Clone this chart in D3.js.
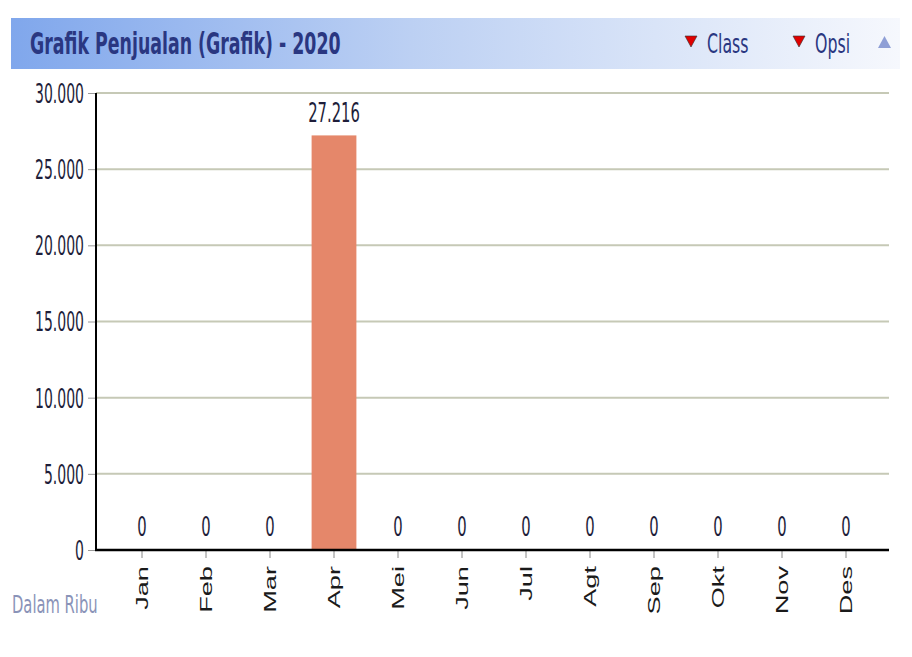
<!DOCTYPE html>
<html>
<head>
<meta charset="utf-8">
<script src="https://cdn.jsdelivr.net/npm/d3@7"></script>
<style>
  body { margin: 0; background: #fff; }
  text { font-family: "DejaVu Sans", sans-serif; }
</style>
</head>
<body>
<div id="chart"></div>
<script>
var width = 912,
    height = 657;

var title = "Grafik Penjualan (Grafik) - 2020";
var months = ["Jan", "Feb", "Mar", "Apr", "Mei", "Jun", "Jul", "Agt", "Sep", "Okt", "Nov", "Des"];
var sales = [0, 0, 0, 27216, 0, 0, 0, 0, 0, 0, 0, 0];
var yTicks = [0, 5000, 10000, 15000, 20000, 25000, 30000];
var menuItems = ["Class", "Opsi"];

var margin = { left: 96, right: 889, top: 93, bottom: 550 };
var textColor = "#1e1e3a";

var fmt = function(v) {
  return d3.format(",")(v).replace(/,/g, ".");
};

// the original text is narrow and tall, so squeeze it
var addText = function(parent, x, y, str, sx, sy) {
  return parent.append("text")
      .attr("transform", "translate(" + x + "," + y + ") scale(" + sx + "," + sy + ")")
      .text(str);
};

var svg = d3.select("#chart").append("svg")
    .attr("width", width)
    .attr("height", height);

// header band
var grad = svg.append("defs").append("linearGradient")
    .attr("id", "hdr").attr("x1", "0").attr("x2", "1");
grad.append("stop").attr("offset", "0").attr("stop-color", "#80a7ec");
grad.append("stop").attr("offset", "0.45").attr("stop-color", "#bcd0f3");
grad.append("stop").attr("offset", "1").attr("stop-color", "#f6f8fd");

svg.append("rect")
    .attr("x", 11).attr("y", 18)
    .attr("width", 889).attr("height", 51)
    .style("fill", "url(#hdr)");

addText(svg, 30, 54, title, 0.79, 1.4)
    .style("font-size", "22px")
    .style("font-weight", "bold")
    .style("fill", "#2a3781");

var menuX = [685, 793];
menuItems.forEach(function(m, i) {
  var mx = menuX[i];
  svg.append("path")
      .attr("d", "M" + mx + ",36 L" + (mx + 12) + ",36 L" + (mx + 6) + ",47 Z")
      .style("fill", "#e00000")
      .style("stroke", "#333")
      .style("stroke-width", 0.6);
  addText(svg, mx + 22, 53, m, 0.79, 1.35)
      .style("font-size", "20px")
      .style("fill", "#2a3781");
});
svg.append("path")
    .attr("d", "M878,48 L891,48 L884.5,36 Z")
    .style("fill", "#8f9fd6");

// scales
var x = d3.scaleBand()
    .domain(months)
    .range([110, 878])
    .paddingInner(0.3)
    .paddingOuter(0.15);

var y = d3.scaleLinear()
    .domain([0, 30000])
    .range([margin.bottom, margin.top]);

// grid
svg.selectAll("line.grid")
    .data(yTicks.filter(function(d) { return d > 0; }))
  .enter().append("line")
    .attr("class", "grid")
    .attr("x1", margin.left).attr("x2", margin.right)
    .attr("y1", function(d) { return y(d); })
    .attr("y2", function(d) { return y(d); })
    .style("stroke", "#c6c9b6")
    .style("stroke-width", 2);

// y axis
var yAxis = svg.append("g")
    .attr("transform", "translate(" + margin.left + ",0)")
    .call(d3.axisLeft(y).tickValues(yTicks).tickFormat(fmt).tickSize(8));
yAxis.select(".domain").remove();
yAxis.selectAll(".tick line").style("stroke", "#999");
yAxis.selectAll(".tick text")
    .attr("x", 0).attr("dy", "0.36em")
    .attr("transform", "translate(-12,0) scale(0.7,1.3)")
    .style("font-family", "'DejaVu Sans', sans-serif")
    .style("font-size", "20px")
    .style("fill", textColor);
svg.append("line")
    .attr("x1", margin.left).attr("x2", margin.left)
    .attr("y1", margin.top).attr("y2", margin.bottom + 1)
    .style("stroke", "#000").style("stroke-width", 2);

// bars
svg.selectAll("rect.bar")
    .data(sales)
  .enter().append("rect")
    .attr("class", "bar")
    .attr("x", function(d, i) { return x(months[i]); })
    .attr("width", x.bandwidth())
    .attr("y", function(d) { return y(d); })
    .attr("height", function(d) { return y(0) - y(d); })
    .style("fill", "#e5876a");

// value labels
var vals = svg.append("g");
sales.forEach(function(d, i) {
  var cx = x(months[i]) + x.bandwidth() / 2;
  var by = d > 0 ? y(d) - 13 : y(0) - 14;
  addText(vals, cx, by, fmt(d), 0.74, 1.3)
      .attr("text-anchor", "middle")
      .style("font-size", "20px")
      .style("fill", textColor);
});

// x axis
var xAxis = svg.append("g")
    .attr("transform", "translate(0," + margin.bottom + ")")
    .call(d3.axisBottom(x).tickSize(8));
xAxis.select(".domain").remove();
xAxis.selectAll(".tick line").style("stroke", "#888");
xAxis.selectAll(".tick text")
    .attr("x", 0).attr("y", 0).attr("dy", "0.36em")
    .attr("transform", "translate(0,16) rotate(-90) scale(1.6,1)")
    .attr("text-anchor", "end")
    .style("font-family", "'Liberation Sans', Arial, sans-serif")
    .style("font-size", "17px")
    .style("fill", "#1a1a1a");
svg.append("line")
    .attr("x1", margin.left - 1).attr("x2", margin.right)
    .attr("y1", margin.bottom).attr("y2", margin.bottom)
    .style("stroke", "#000").style("stroke-width", 2.5);

addText(svg, 12, 613, "Dalam Ribu", 0.82, 1.4)
    .style("font-size", "18px")
    .style("fill", "#8a93b8");
</script>
</body>
</html>
